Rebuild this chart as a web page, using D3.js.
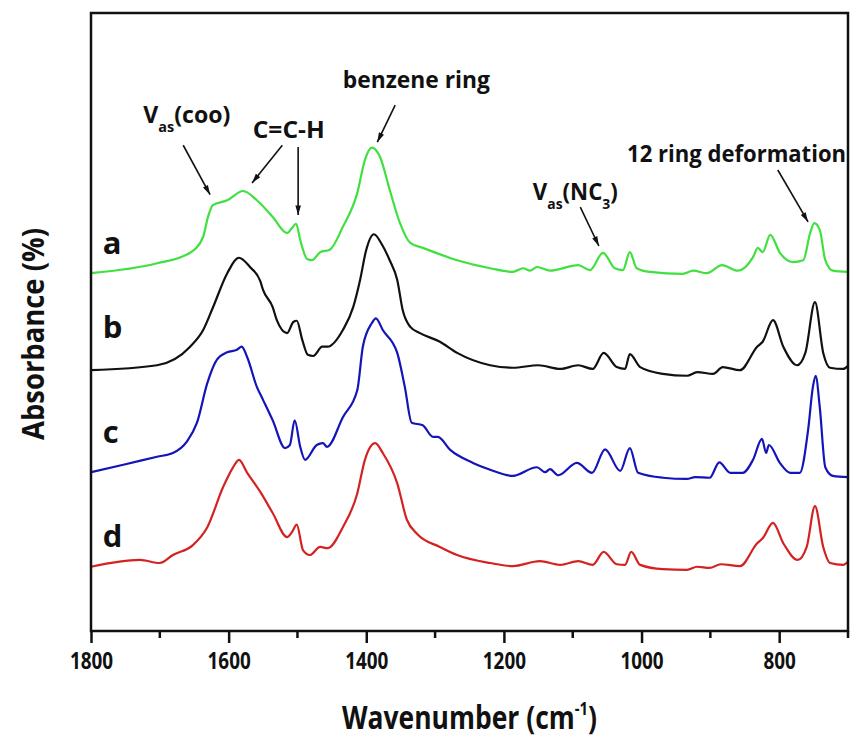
<!DOCTYPE html>
<html>
<head>
<meta charset="utf-8">
<script src="https://cdn.jsdelivr.net/npm/d3@7"></script>
<style>
  body { margin: 0; background: #fff; }
  text { font-family: "Open Sans", "DejaVu Sans Condensed", sans-serif; font-weight: bold; }
</style>
</head>
<body>
<script>
let width = 851;
let height = 736;

// x ticks
let majorTicks = [1800, 1600, 1400, 1200, 1000, 800];
let minorTicks = [1700, 1500, 1300, 1100, 900, 700];

// spectra: [wavenumber, absorbance] (offset stacked)
let specA = [
  [1800, 57.9], [1704, 59.5], [1656, 61.2], [1637, 63.8], [1630, 67.0], [1623, 68.9],
  [1602, 69.7], [1579, 71.2], [1559, 69.7], [1536, 67.0], [1515, 64.4], [1508, 65.2],
  [1502, 65.9], [1496, 63.3], [1486, 60.2], [1479, 60.0], [1467, 61.3], [1453, 61.7],
  [1434, 65.4], [1413, 70.9], [1402, 76.2], [1392, 78.2], [1380, 76.7], [1366, 71.4],
  [1351, 66.0], [1336, 62.8], [1318, 62.0], [1268, 60.0], [1220, 58.7], [1187, 58.1],
  [1172, 58.7], [1162, 58.3], [1152, 58.9], [1133, 58.3], [1092, 59.2], [1075, 58.4],
  [1056, 61.2], [1039, 58.7], [1027, 58.4], [1017, 61.3], [1007, 58.7], [988, 58.1],
  [940, 57.8], [925, 58.3], [905, 57.9], [883, 59.2], [860, 58.3], [838, 60.5],
  [831, 62.0], [824, 61.3], [813, 64.1], [799, 61.2], [780, 59.7], [765, 60.0],
  [755, 64.4], [749, 66.0], [741, 64.9], [733, 60.0], [722, 58.3], [700, 58.1]
];
let specB = [
  [1800, 42.2], [1704, 43.0], [1656, 46.0], [1637, 48.7], [1623, 52.3], [1602, 57.9],
  [1585, 60.4], [1569, 58.9], [1554, 56.6], [1550, 55.2], [1536, 52.4], [1530, 50.3],
  [1515, 48.2], [1506, 50.0], [1501, 50.2], [1493, 47.1], [1485, 44.7], [1477, 44.5],
  [1464, 46.0], [1456, 46.0], [1434, 48.7], [1419, 52.4], [1409, 56.8], [1400, 61.7],
  [1389, 64.2], [1377, 62.5], [1366, 60.0], [1355, 56.8], [1347, 51.9], [1336, 49.2],
  [1322, 48.2], [1293, 46.8], [1268, 45.0], [1220, 43.0], [1187, 42.6], [1150, 43.0],
  [1118, 42.4], [1092, 43.0], [1071, 42.4], [1055, 45.0], [1036, 42.7], [1024, 42.4],
  [1017, 44.8], [1002, 42.7], [969, 41.6], [934, 41.3], [919, 41.9], [896, 41.6],
  [882, 42.7], [857, 42.2], [832, 46.0], [824, 46.8], [809, 50.3], [794, 46.0],
  [774, 43.0], [762, 45.0], [748, 53.2], [736, 45.0], [726, 42.6], [707, 42.4], [700, 42.9]
];
let specC = [
  [1800, 25.7], [1753, 26.9], [1704, 28.2], [1681, 28.8], [1661, 30.6], [1646, 33.7],
  [1631, 40.1], [1617, 43.9], [1602, 45.1], [1588, 45.5], [1581, 46.0], [1573, 44.3],
  [1559, 39.5], [1550, 37.4], [1536, 34.1], [1518, 29.6], [1511, 30.1], [1504, 34.1],
  [1496, 29.8], [1489, 27.7], [1472, 30.1], [1463, 30.4], [1457, 29.8], [1434, 34.6],
  [1413, 39.0], [1405, 46.0], [1392, 49.8], [1386, 50.6], [1376, 48.7], [1355, 45.0],
  [1344, 39.5], [1334, 33.7], [1318, 33.3], [1303, 31.4], [1296, 31.4], [1278, 29.3],
  [1245, 27.2], [1220, 26.1], [1187, 25.1], [1152, 26.5], [1140, 25.7], [1133, 26.2],
  [1121, 25.2], [1094, 27.2], [1072, 25.6], [1053, 29.4], [1031, 25.9], [1017, 29.6],
  [1005, 25.6], [969, 24.8], [934, 24.6], [922, 24.9], [901, 24.8], [887, 27.3],
  [871, 25.6], [853, 25.6], [838, 27.7], [825, 31.1], [819, 28.8], [815, 30.1],
  [799, 27.2], [784, 25.6], [770, 25.6], [758, 32.5], [751, 39.5], [747, 41.3],
  [741, 36.2], [733, 26.5], [722, 25.1], [700, 24.9]
];
let specD = [
  [1800, 10.4], [1729, 11.5], [1700, 11.0], [1681, 12.3], [1652, 13.9], [1631, 16.8],
  [1608, 23.3], [1594, 26.4], [1585, 27.7], [1573, 25.6], [1554, 22.5], [1536, 19.1],
  [1515, 15.2], [1508, 16.0], [1501, 17.2], [1492, 13.1], [1482, 12.3], [1467, 13.6],
  [1456, 13.4], [1434, 16.8], [1413, 22.3], [1402, 27.7], [1387, 30.4], [1376, 28.8],
  [1355, 23.9], [1341, 18.0], [1326, 15.7], [1293, 13.6], [1268, 12.3], [1220, 11.0],
  [1187, 10.5], [1148, 11.3], [1118, 10.7], [1092, 11.3], [1071, 10.7], [1055, 12.8],
  [1036, 10.8], [1024, 10.7], [1015, 12.8], [1002, 10.7], [969, 10.0], [934, 9.9],
  [919, 10.4], [901, 10.2], [885, 10.8], [857, 10.5], [832, 14.2], [824, 15.0],
  [809, 17.5], [794, 14.2], [773, 11.5], [760, 13.6], [748, 20.2], [736, 13.6],
  [726, 11.0], [707, 10.7], [700, 11.2]
];

let seriesNames = ["a", "b", "c", "d"];
let seriesData = [specA, specB, specC, specD];
let seriesColors = ["#3fe03f", "#111111", "#1414b8", "#d42222"];
let labelY = [61.0, 47.4, 30.4, 13.6];

let svg = d3.select("body")
            .append("svg")
            .attr("width", width)
            .attr("height", height)

let plotL = 91, plotR = 848, plotT = 13, plotB = 631;

let x = d3.scaleLinear().domain([1800, 700]).range([plotL, plotR]);
let y = d3.scaleLinear().domain([0, 100]).range([plotB, plotT]);

// arrow head
svg.append("defs").append("marker")
  .attr("id", "head")
  .attr("viewBox", "0 0 12 10")
  .attr("refX", 12).attr("refY", 5)
  .attr("markerWidth", 11).attr("markerHeight", 8)
  .attr("markerUnits", "userSpaceOnUse")
  .attr("orient", "auto")
  .append("path")
  .attr("d", "M0,1.5 L12,5 L0,8.5 Z")
  .attr("fill", "#111")

let line = d3.line()
  .x(d => x(d[0]))
  .y(d => y(d[1]))
  .curve(d3.curveMonotoneX)

svg.append("g")
  .selectAll("path")
  .data(seriesData)
  .enter()
  .append("path")
  .attr("d", line)
  .attr("fill", "none")
  .attr("stroke", (d, i) => seriesColors[i])
  .attr("stroke-width", 2.2)
  .attr("stroke-linejoin", "round")

// series letters
svg.append("g")
  .selectAll("text")
  .data(seriesNames)
  .enter()
  .append("text")
  .attr("x", x(1783))
  .attr("y", (d, i) => y(labelY[i]))
  .attr("font-size", 31)
  .attr("fill", "#111")
  .text(d => d)

// frame
svg.append("rect")
  .attr("x", plotL).attr("y", plotT)
  .attr("width", plotR - plotL).attr("height", plotB - plotT)
  .attr("fill", "none")
  .attr("stroke", "#111")
  .attr("stroke-width", 2.5)

// bottom axis
let xAxis = d3.axisBottom(x)
  .tickValues(majorTicks)
  .tickSize(12)
  .tickPadding(10)
  .tickFormat(d3.format("d"))
let gx = svg.append("g")
  .attr("transform", "translate(0," + plotB + ")")
  .call(xAxis)
gx.select(".domain").remove()
gx.selectAll(".tick line").attr("stroke", "#111").attr("stroke-width", 2.5)
gx.selectAll(".tick text")
  .attr("font-size", 23)
  .attr("font-family", "'Open Sans', sans-serif")
  .attr("font-weight", "bold")
  .attr("fill", "#111")
  .attr("textLength", d => String(d).length * 10.8)
  .attr("lengthAdjust", "spacingAndGlyphs")

svg.append("g")
  .selectAll("line")
  .data(minorTicks)
  .enter()
  .append("line")
  .attr("x1", d => x(d)).attr("x2", d => x(d))
  .attr("y1", plotB).attr("y2", plotB + 7)
  .attr("stroke", "#111")
  .attr("stroke-width", 2.5)

// axis titles
let xt = svg.append("text")
  .attr("x", (plotL + plotR) / 2)
  .attr("y", 729)
  .attr("text-anchor", "middle")
  .attr("font-size", 32)
  .attr("fill", "#111")
  .attr("textLength", 255)
  .attr("lengthAdjust", "spacingAndGlyphs")
xt.append("tspan").text("Wavenumber (cm")
xt.append("tspan").attr("font-size", 18).attr("dy", -14).text("-1")
xt.append("tspan").attr("dy", 14).text(")")

svg.append("text")
  .attr("transform", "translate(44," + 334 + ") rotate(-90)")
  .attr("text-anchor", "middle")
  .attr("font-size", 31)
  .attr("fill", "#111")
  .attr("textLength", 212)
  .attr("lengthAdjust", "spacingAndGlyphs")
  .text("Absorbance (%)")

// annotations: text start, width and arrows, in data units
let notes = [
  { w: 1724, v: 82.2, len: 87, parts: [["V", 0], ["as", 1], ["(coo)", 0]] },
  { w: 1565, v: 79.8, len: 72, parts: [["C=C-H", 0]] },
  { w: 1434, v: 87.9, len: 147, parts: [["benzene ring", 0]] },
  { w: 1158, v: 69.7, len: 85, parts: [["V", 0], ["as", 1], ["(NC", 0], ["3", 1], [")", 0]] },
  { w: 1021, v: 75.9, len: 219, parts: [["12 ring deformation", 0]] }
];
let arrows = [
  [1666, 78.6, 1627, 70.6],
  [1522, 78.6, 1566, 72.5],
  [1499, 78.3, 1499, 67.3],
  [1358, 85.1, 1384, 79.1],
  [1089, 68.6, 1062, 62.3],
  [802, 74.6, 758, 66.2]
];

notes.forEach(function(n) {
  let t = svg.append("text")
    .attr("x", x(n.w))
    .attr("y", y(n.v))
    .attr("font-size", 24)
    .attr("fill", "#111")
    .attr("textLength", n.len)
    .attr("lengthAdjust", "spacingAndGlyphs")
  let shift = 0
  n.parts.forEach(function(p) {
    let dy = 0
    if (p[1] === 1 && shift === 0) { dy = 9; shift = 9 }
    else if (p[1] === 0 && shift !== 0) { dy = -shift; shift = 0 }
    t.append("tspan")
      .attr("dy", dy)
      .attr("font-size", p[1] ? 15 : 24)
      .text(p[0])
  })
})

svg.append("g")
  .selectAll("line")
  .data(arrows)
  .enter()
  .append("line")
  .attr("x1", d => x(d[0])).attr("y1", d => y(d[1]))
  .attr("x2", d => x(d[2])).attr("y2", d => y(d[3]))
  .attr("stroke", "#111")
  .attr("stroke-width", 1.6)
  .attr("marker-end", "url(#head)")
</script>
</body>
</html>
